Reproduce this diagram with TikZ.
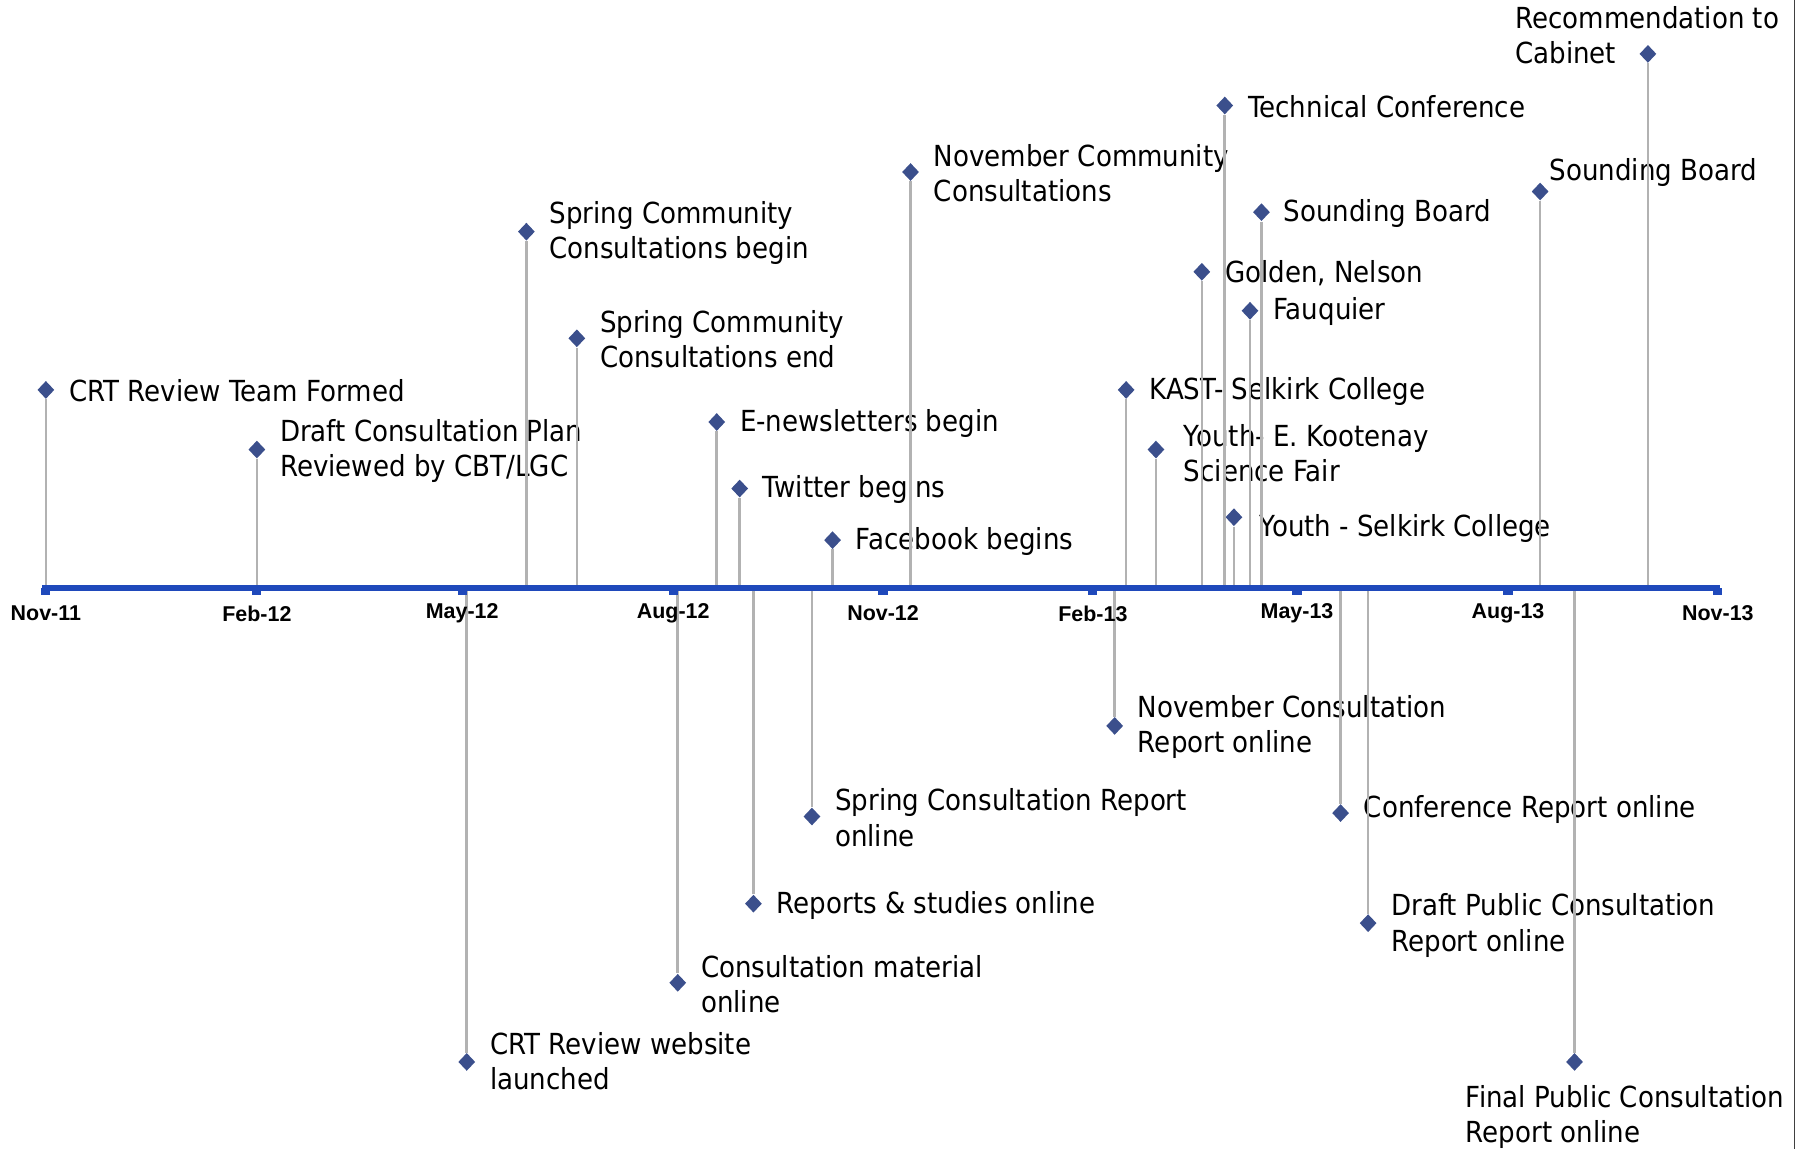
\documentclass[tikz,border=0pt]{standalone}
\usepackage{fontspec}
\setmainfont{DejaVu Sans}[FakeStretch=0.9]
\newfontfamily\axisfont{Liberation Sans}
\usepackage{tikz}
\usetikzlibrary{shapes.geometric}
\definecolor{axisblue}{RGB}{31,73,187}
\definecolor{markblue}{RGB}{59,79,140}
\definecolor{stemgray}{RGB}{178,178,178}
\tikzset{
	eventmark/.style={diamond, fill=markblue, inner sep=0pt, minimum width=0.34cm, minimum height=0.36cm},
	eventtext/.style={anchor=west, align=left, inner sep=0pt, font=\fontsize{16.5}{20}\selectfont},
	stem/.style={draw=stemgray, line width=1.5pt},
	monthlabel/.style={inner sep=0pt, font=\axisfont\bfseries\fontsize{12.2}{14}\selectfont}
}

\begin{document}
\begin{tikzpicture}[x=0.022936cm, y=-0.022936cm]
	\useasboundingbox (0,0) rectangle (1567,1002);
	
	% events above the axis
	\node[eventmark] at (40,340) (formed) {};
	\node[eventmark] at (224,392) (draftplan) {};
	\node[eventmark] at (459,202) (springbegin) {};
	\node[eventmark] at (503,295) (springend) {};
	\node[eventmark] at (625,368) (enews) {};
	\node[eventmark] at (645,426) (twitter) {};
	\node[eventmark] at (726,471) (facebook) {};
	\node[eventmark] at (794,150) (novcons) {};
	\node[eventmark] at (982,340) (kast) {};
	\node[eventmark] at (1008,392) (youthek) {};
	\node[eventmark] at (1048,237) (golden) {};
	\node[eventmark] at (1068,92) (techconf) {};
	\node[eventmark] at (1076,451) (youthsel) {};
	\node[eventmark] at (1090,271) (fauquier) {};
	\node[eventmark] at (1100,185) (soundA) {};
	\node[eventmark] at (1343,167) (soundB) {};
	\node[eventmark] at (1437,47) (cabinet) {};
	
	\node[eventtext] at (60,341) (formedtxt) {CRT Review Team Formed};
	\node[eventtext] at (244,393) (draftplantxt) {Draft Consultation Plan\\Reviewed by CBT/LGC};
	\node[eventtext] at (479,203) (springbegintxt) {Spring Community\\Consultations begin};
	\node[eventtext] at (523,296) (springendtxt) {Spring Community\\Consultations end};
	\node[eventtext] at (645,369) (enewstxt) {E-newsletters begin};
	\node[eventtext] at (665,427) (twittertxt) {Twitter begins};
	\node[eventtext] at (746,472) (facebooktxt) {Facebook begins};
	\node[eventtext] at (814,151) (novconstxt) {November Community\\Consultations};
	\node[eventtext] at (1002,341) (kasttxt) {KAST- Selkirk College};
	\node[eventtext] at (1032,395) (youthektxt) {Youth- E. Kootenay\\Science Fair};
	\node[eventtext] at (1068,238) (goldentxt) {Golden, Nelson};
	\node[eventtext] at (1088,93) (techconftxt) {Technical Conference};
	\node[eventtext] at (1098,461) (youthseltxt) {Youth - Selkirk College};
	\node[eventtext] at (1110,272) (fauquiertxt) {Fauquier};
	\node[eventtext] at (1119,186) (soundAtxt) {Sounding Board};
	\node[eventtext] at (1351,150) (soundBtxt) {Sounding Board};
	\node[eventtext] at (1321,31) (cabinettxt) {Recommendation to\\Cabinet};
	
	% events below the axis
	\node[eventmark] at (407,926) (website) {};
	\node[eventmark] at (591,857) (material) {};
	\node[eventmark] at (657,788) (reports) {};
	\node[eventmark] at (708,712) (springrep) {};
	\node[eventmark] at (972,633) (novrep) {};
	\node[eventmark] at (1169,709) (confrep) {};
	\node[eventmark] at (1193,805) (draftpub) {};
	\node[eventmark] at (1373,926) (finalpub) {};
	
	\node[eventtext] at (427,925) (websitetxt) {CRT Review website\\launched};
	\node[eventtext] at (611,858) (materialtxt) {Consultation material\\online};
	\node[eventtext] at (677,790) (reportstxt) {Reports \& studies online};
	\node[eventtext] at (728,713) (springreptxt) {Spring Consultation Report\\online};
	\node[eventtext] at (992,634) (novreptxt) {November Consultation\\Report online};
	\node[eventtext] at (1189,706) (confreptxt) {Conference Report online};
	\node[eventtext] at (1213,807) (draftpubtxt) {Draft Public Consultation\\Report online};
	\node[eventtext] at (1278,974) (finalpubtxt) {Final Public Consultation\\Report online};
	
	% stems
	\foreach \ev in {formed,draftplan,springbegin,springend,enews,twitter,facebook,novcons,kast,youthek,golden,techconf,youthsel,fauquier,soundA,soundB,cabinet,website,material,reports,springrep,novrep,confrep,draftpub,finalpub}
		\draw[stem] (\ev) -- (\ev |- 0,513);
	
	% time axis
	\draw[axisblue, line width=3.6pt] (37,513) -- (1500,513);
	\foreach \mx/\mlab in {40/Nov-11, 224/Feb-12, 403/May-12, 587/Aug-12, 770/Nov-12, 953/Feb-13, 1131/May-13, 1315/Aug-13, 1498/Nov-13} {
		\fill[axisblue] (\mx-4,513) rectangle (\mx+4,519);
		\node[monthlabel] at (\mx,535) (m\mlab) {\mlab};
	}
	
	\draw[black!75, line width=0.8pt] (1565,0) -- (1565,1002);
\end{tikzpicture}
\end{document}
